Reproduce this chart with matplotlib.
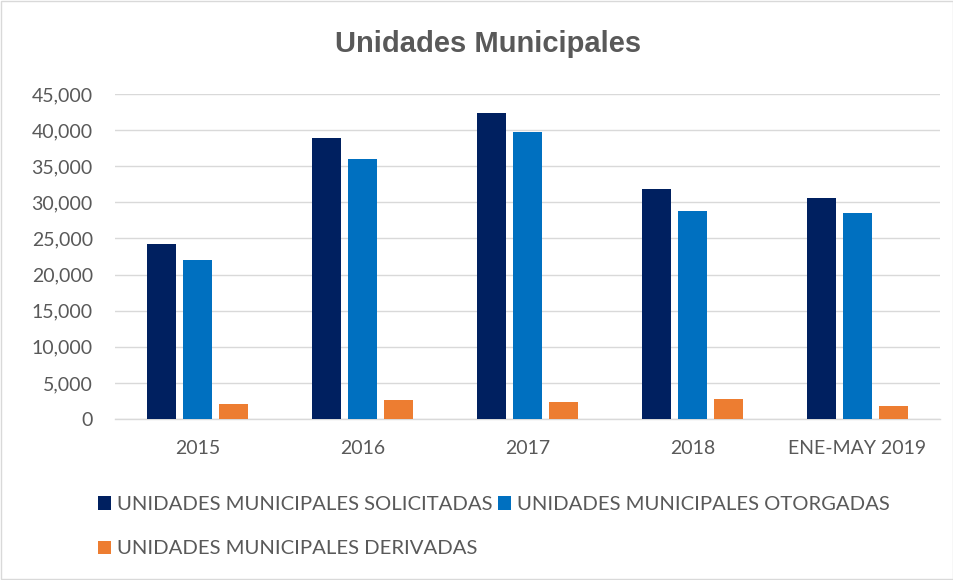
import matplotlib
matplotlib.use("Agg")
import matplotlib.pyplot as plt
import numpy as np
from matplotlib.patches import Rectangle

categories = ["2015", "2016", "2017", "2018", "ENE-MAY 2019"]
solicitadas = [24250, 38900, 42380, 31900, 30600]
otorgadas = [22000, 35960, 39670, 28800, 28550]
derivadas = [2080, 2580, 2400, 2820, 1850]
series_names = ["UNIDADES MUNICIPALES SOLICITADAS",
                "UNIDADES MUNICIPALES OTORGADAS",
                "UNIDADES MUNICIPALES DERIVADAS"]
colors = ["#002060", "#0070C0", "#ED7D31"]
yticks = list(range(0, 45001, 5000))

plt.rcParams['font.family'] = ['Lato', 'DejaVu Sans']

fig = plt.figure(figsize=(9.54, 5.8), dpi=100)
ax = fig.add_axes([115/954, 1-419/580, 825/954, 325/580])

x = np.arange(len(categories))
w = 0.176
sp = 0.218
bars = []
for i, (vals, c) in enumerate(zip([solicitadas, otorgadas, derivadas], colors)):
    b = ax.bar(x + (i-1)*sp, vals, width=w, color=c, label=series_names[i], zorder=3)
    bars.append(b)

ax.set_xlim(-0.5, len(categories)-0.5)
ax.set_ylim(0, 45000)
ax.set_yticks(yticks)
ax.set_yticklabels([f"{v:,}" for v in yticks])
ax.set_xticks(x)
ax.set_xticklabels(categories)
ax.tick_params(axis='both', length=0, labelsize=14, colors="#595959")
ax.tick_params(axis='x', pad=15)
ax.tick_params(axis='y', pad=16)
ax.grid(axis='y', color="#D9D9D9", linewidth=1, zorder=0)
for s in ['top', 'right', 'left']:
    ax.spines[s].set_visible(False)
ax.spines['bottom'].set_color("#D9D9D9")
ax.spines['bottom'].set_linewidth(1)

fig.text(488/954, 1-44/580, "Unidades Municipales", ha='center', va='center',
         fontsize=21, fontweight='bold', color="#595959",
         family=['Liberation Sans', 'DejaVu Sans'])

handles = [bars[0], bars[2], bars[1]]
labels = [series_names[0], series_names[2], series_names[1]]
leg = fig.legend(handles, labels, ncol=2, loc='upper left',
                 bbox_to_anchor=(90/954, 1-488/580), frameon=False,
                 fontsize=14.6, handlelength=0.62, handleheight=0.62,
                 handletextpad=0.3, columnspacing=0.3, labelspacing=1.35,
                 borderaxespad=0)
for t in leg.get_texts():
    t.set_color("#595959")

fig.patches.append(Rectangle((0.001, 0.001), 0.998, 0.997, transform=fig.transFigure,
                             fill=False, edgecolor="#D9D9D9", linewidth=1))

fig.savefig("out.png", dpi=100)
